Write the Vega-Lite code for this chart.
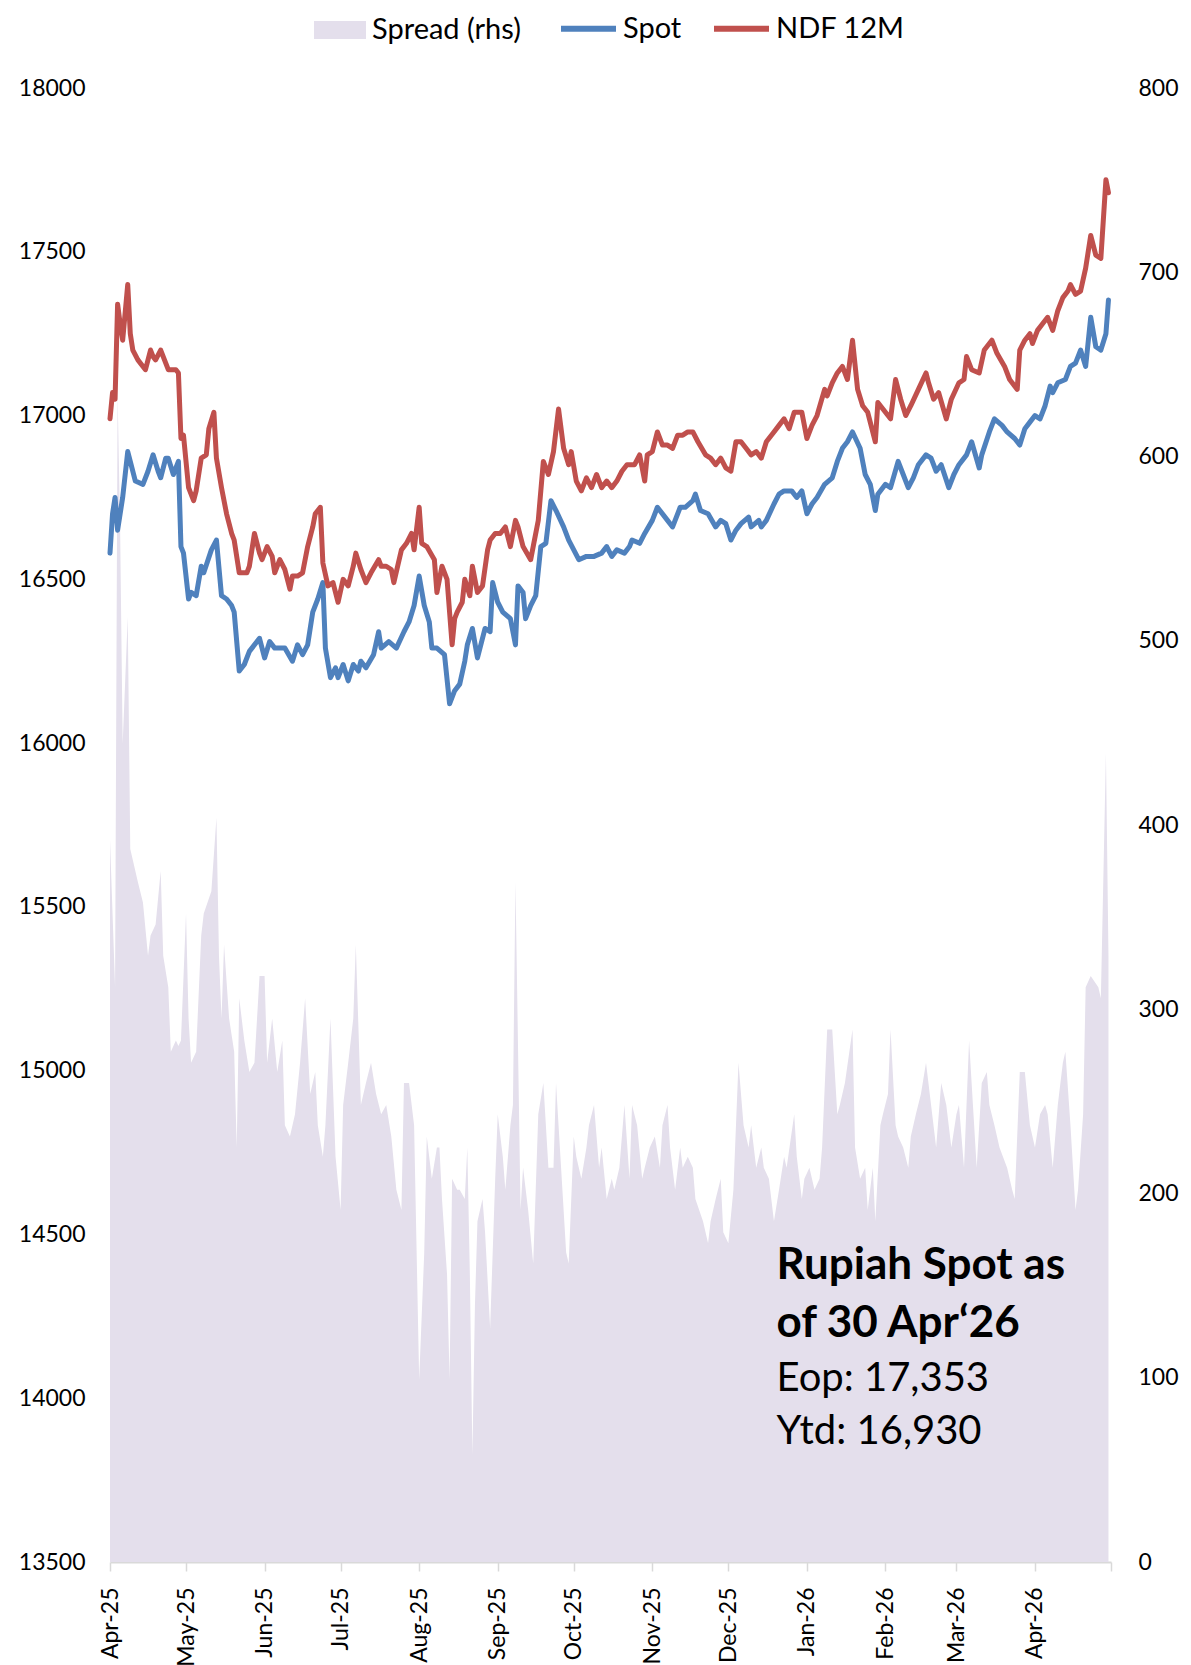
{
"$schema": "https://vega.github.io/schema/vega-lite/v6.json",
"width": 1001, "height": 1474,
"autosize": {"type": "none"},
"padding": {"left": 110, "top": 88, "right": 80, "bottom": 103},
"background": "white",
"config": {"view": {"stroke": null}, "font": "Lato",
  "axis": {"labelFont": "Lato", "labelFontSize": 23, "labelColor": "#000", "grid": false, "title": null},
  "legend": {"labelFont": "Lato", "labelFontSize": 29, "labelColor": "#000", "title": null, "padding": 0}},
"datasets": {
"spot": [
{"date":"2025-04-01","value":16580},{"date":"2025-04-02","value":16700},{"date":"2025-04-03","value":16750},{"date":"2025-04-04","value":16650},{"date":"2025-04-06","value":16750},{"date":"2025-04-08","value":16890},{"date":"2025-04-09","value":16860},{"date":"2025-04-11","value":16800},{"date":"2025-04-14","value":16790},{"date":"2025-04-16","value":16830},{"date":"2025-04-18","value":16880},{"date":"2025-04-20","value":16830},{"date":"2025-04-21","value":16810},{"date":"2025-04-23","value":16870},{"date":"2025-04-24","value":16870},{"date":"2025-04-26","value":16820},{"date":"2025-04-28","value":16860},{"date":"2025-04-29","value":16600},{"date":"2025-04-30","value":16580},
{"date":"2025-05-02","value":16440},{"date":"2025-05-03","value":16460},{"date":"2025-05-05","value":16450},{"date":"2025-05-07","value":16540},{"date":"2025-05-08","value":16520},{"date":"2025-05-11","value":16590},{"date":"2025-05-13","value":16620},{"date":"2025-05-15","value":16450},{"date":"2025-05-17","value":16440},{"date":"2025-05-19","value":16420},{"date":"2025-05-20","value":16400},{"date":"2025-05-22","value":16220},{"date":"2025-05-24","value":16240},{"date":"2025-05-26","value":16280},{"date":"2025-05-30","value":16320},
{"date":"2025-06-01","value":16260},{"date":"2025-06-03","value":16310},{"date":"2025-06-05","value":16290},{"date":"2025-06-09","value":16290},{"date":"2025-06-12","value":16250},{"date":"2025-06-14","value":16300},{"date":"2025-06-16","value":16270},{"date":"2025-06-18","value":16300},{"date":"2025-06-20","value":16400},{"date":"2025-06-22","value":16440},{"date":"2025-06-24","value":16490},{"date":"2025-06-25","value":16290},{"date":"2025-06-27","value":16200},{"date":"2025-06-29","value":16230},{"date":"2025-06-30","value":16200},
{"date":"2025-07-02","value":16240},{"date":"2025-07-04","value":16190},{"date":"2025-07-06","value":16240},{"date":"2025-07-08","value":16220},{"date":"2025-07-09","value":16250},{"date":"2025-07-11","value":16230},{"date":"2025-07-14","value":16270},{"date":"2025-07-16","value":16340},{"date":"2025-07-17","value":16290},{"date":"2025-07-20","value":16310},{"date":"2025-07-23","value":16290},{"date":"2025-07-26","value":16340},{"date":"2025-07-28","value":16370},{"date":"2025-07-30","value":16420},
{"date":"2025-08-01","value":16510},{"date":"2025-08-03","value":16420},{"date":"2025-08-05","value":16370},{"date":"2025-08-06","value":16290},{"date":"2025-08-08","value":16290},{"date":"2025-08-11","value":16270},{"date":"2025-08-13","value":16120},{"date":"2025-08-15","value":16160},{"date":"2025-08-17","value":16180},{"date":"2025-08-19","value":16250},{"date":"2025-08-20","value":16300},{"date":"2025-08-22","value":16350},{"date":"2025-08-24","value":16260},{"date":"2025-08-27","value":16350},{"date":"2025-08-29","value":16340},{"date":"2025-08-30","value":16490},
{"date":"2025-09-01","value":16430},{"date":"2025-09-03","value":16400},{"date":"2025-09-06","value":16380},{"date":"2025-09-08","value":16300},{"date":"2025-09-09","value":16480},{"date":"2025-09-11","value":16460},{"date":"2025-09-12","value":16380},{"date":"2025-09-14","value":16420},{"date":"2025-09-16","value":16450},{"date":"2025-09-18","value":16600},{"date":"2025-09-20","value":16610},{"date":"2025-09-22","value":16740},{"date":"2025-09-24","value":16710},{"date":"2025-09-27","value":16660},{"date":"2025-09-29","value":16620},
{"date":"2025-10-03","value":16560},{"date":"2025-10-06","value":16570},{"date":"2025-10-09","value":16570},{"date":"2025-10-12","value":16580},{"date":"2025-10-14","value":16600},{"date":"2025-10-16","value":16570},{"date":"2025-10-18","value":16590},{"date":"2025-10-21","value":16580},{"date":"2025-10-23","value":16600},{"date":"2025-10-24","value":16620},{"date":"2025-10-27","value":16610},{"date":"2025-10-29","value":16640},
{"date":"2025-11-01","value":16680},{"date":"2025-11-03","value":16720},{"date":"2025-11-07","value":16680},{"date":"2025-11-09","value":16660},{"date":"2025-11-12","value":16720},{"date":"2025-11-14","value":16720},{"date":"2025-11-17","value":16740},{"date":"2025-11-18","value":16760},{"date":"2025-11-20","value":16710},{"date":"2025-11-23","value":16700},{"date":"2025-11-26","value":16660},{"date":"2025-11-28","value":16680},{"date":"2025-11-30","value":16670},
{"date":"2025-12-02","value":16620},{"date":"2025-12-04","value":16650},{"date":"2025-12-06","value":16670},{"date":"2025-12-09","value":16690},{"date":"2025-12-10","value":16660},{"date":"2025-12-13","value":16680},{"date":"2025-12-14","value":16660},{"date":"2025-12-16","value":16680},{"date":"2025-12-19","value":16730},{"date":"2025-12-21","value":16760},{"date":"2025-12-23","value":16770},{"date":"2025-12-26","value":16770},{"date":"2025-12-28","value":16750},{"date":"2025-12-30","value":16770},
{"date":"2026-01-01","value":16700},{"date":"2026-01-03","value":16730},{"date":"2026-01-05","value":16750},{"date":"2026-01-08","value":16790},{"date":"2026-01-11","value":16810},{"date":"2026-01-13","value":16860},{"date":"2026-01-15","value":16900},{"date":"2026-01-17","value":16920},{"date":"2026-01-19","value":16950},{"date":"2026-01-22","value":16900},{"date":"2026-01-24","value":16820},{"date":"2026-01-26","value":16790},{"date":"2026-01-28","value":16710},{"date":"2026-01-29","value":16760},
{"date":"2026-02-01","value":16790},{"date":"2026-02-03","value":16780},{"date":"2026-02-06","value":16860},{"date":"2026-02-08","value":16820},{"date":"2026-02-10","value":16780},{"date":"2026-02-12","value":16810},{"date":"2026-02-14","value":16850},{"date":"2026-02-17","value":16880},{"date":"2026-02-19","value":16870},{"date":"2026-02-21","value":16830},{"date":"2026-02-23","value":16850},{"date":"2026-02-26","value":16780},{"date":"2026-02-28","value":16820},
{"date":"2026-03-02","value":16850},{"date":"2026-03-05","value":16880},{"date":"2026-03-07","value":16920},{"date":"2026-03-10","value":16840},{"date":"2026-03-11","value":16880},{"date":"2026-03-14","value":16950},{"date":"2026-03-16","value":16990},{"date":"2026-03-19","value":16970},{"date":"2026-03-21","value":16950},{"date":"2026-03-24","value":16930},{"date":"2026-03-26","value":16910},{"date":"2026-03-28","value":16960},{"date":"2026-03-30","value":16980},
{"date":"2026-04-01","value":17000},{"date":"2026-04-03","value":16990},{"date":"2026-04-05","value":17030},{"date":"2026-04-07","value":17090},{"date":"2026-04-08","value":17070},{"date":"2026-04-10","value":17100},{"date":"2026-04-13","value":17110},{"date":"2026-04-15","value":17150},{"date":"2026-04-17","value":17160},{"date":"2026-04-19","value":17200},{"date":"2026-04-21","value":17150},{"date":"2026-04-23","value":17300},{"date":"2026-04-25","value":17210},{"date":"2026-04-27","value":17200},{"date":"2026-04-29","value":17250},{"date":"2026-04-30","value":17353}
],
"ndf": [
{"date":"2025-04-01","value":16990},{"date":"2025-04-02","value":17070},{"date":"2025-04-03","value":17050},{"date":"2025-04-04","value":17340},{"date":"2025-04-05","value":17280},{"date":"2025-04-06","value":17230},{"date":"2025-04-08","value":17400},{"date":"2025-04-09","value":17250},{"date":"2025-04-10","value":17200},{"date":"2025-04-12","value":17170},{"date":"2025-04-14","value":17150},{"date":"2025-04-15","value":17140},{"date":"2025-04-17","value":17200},{"date":"2025-04-18","value":17180},{"date":"2025-04-19","value":17170},{"date":"2025-04-21","value":17200},{"date":"2025-04-23","value":17160},{"date":"2025-04-24","value":17140},{"date":"2025-04-27","value":17140},{"date":"2025-04-28","value":17130},{"date":"2025-04-29","value":16930},{"date":"2025-04-30","value":16940},
{"date":"2025-05-02","value":16780},{"date":"2025-05-04","value":16740},{"date":"2025-05-05","value":16770},{"date":"2025-05-07","value":16870},{"date":"2025-05-09","value":16880},{"date":"2025-05-10","value":16960},{"date":"2025-05-12","value":17010},{"date":"2025-05-13","value":16870},{"date":"2025-05-15","value":16780},{"date":"2025-05-17","value":16700},{"date":"2025-05-19","value":16640},{"date":"2025-05-20","value":16620},{"date":"2025-05-22","value":16520},{"date":"2025-05-25","value":16520},{"date":"2025-05-26","value":16540},{"date":"2025-05-28","value":16640},{"date":"2025-05-30","value":16580},{"date":"2025-05-31","value":16560},
{"date":"2025-06-02","value":16600},{"date":"2025-06-04","value":16570},{"date":"2025-06-05","value":16520},{"date":"2025-06-07","value":16560},{"date":"2025-06-09","value":16530},{"date":"2025-06-11","value":16470},{"date":"2025-06-12","value":16510},{"date":"2025-06-14","value":16510},{"date":"2025-06-16","value":16520},{"date":"2025-06-18","value":16600},{"date":"2025-06-20","value":16660},{"date":"2025-06-21","value":16700},{"date":"2025-06-23","value":16720},{"date":"2025-06-24","value":16550},{"date":"2025-06-26","value":16480},{"date":"2025-06-28","value":16490},{"date":"2025-06-30","value":16430},
{"date":"2025-07-02","value":16500},{"date":"2025-07-04","value":16480},{"date":"2025-07-06","value":16540},{"date":"2025-07-07","value":16580},{"date":"2025-07-09","value":16530},{"date":"2025-07-11","value":16490},{"date":"2025-07-13","value":16520},{"date":"2025-07-16","value":16560},{"date":"2025-07-17","value":16540},{"date":"2025-07-19","value":16540},{"date":"2025-07-21","value":16530},{"date":"2025-07-22","value":16490},{"date":"2025-07-25","value":16590},{"date":"2025-07-27","value":16610},{"date":"2025-07-29","value":16640},{"date":"2025-07-30","value":16590},
{"date":"2025-08-01","value":16720},{"date":"2025-08-02","value":16610},{"date":"2025-08-04","value":16600},{"date":"2025-08-07","value":16560},{"date":"2025-08-08","value":16460},{"date":"2025-08-10","value":16540},{"date":"2025-08-12","value":16500},{"date":"2025-08-14","value":16300},{"date":"2025-08-15","value":16380},{"date":"2025-08-16","value":16400},{"date":"2025-08-18","value":16430},{"date":"2025-08-19","value":16500},{"date":"2025-08-21","value":16450},{"date":"2025-08-22","value":16540},{"date":"2025-08-24","value":16460},{"date":"2025-08-26","value":16480},{"date":"2025-08-28","value":16590},{"date":"2025-08-29","value":16620},{"date":"2025-08-31","value":16640},
{"date":"2025-09-02","value":16640},{"date":"2025-09-04","value":16660},{"date":"2025-09-06","value":16600},{"date":"2025-09-08","value":16680},{"date":"2025-09-09","value":16660},{"date":"2025-09-11","value":16600},{"date":"2025-09-14","value":16560},{"date":"2025-09-15","value":16600},{"date":"2025-09-17","value":16680},{"date":"2025-09-19","value":16860},{"date":"2025-09-21","value":16820},{"date":"2025-09-23","value":16890},{"date":"2025-09-25","value":17020},{"date":"2025-09-27","value":16900},{"date":"2025-09-29","value":16850},{"date":"2025-09-30","value":16890},
{"date":"2025-10-02","value":16800},{"date":"2025-10-04","value":16770},{"date":"2025-10-06","value":16810},{"date":"2025-10-08","value":16780},{"date":"2025-10-10","value":16820},{"date":"2025-10-12","value":16780},{"date":"2025-10-14","value":16800},{"date":"2025-10-16","value":16780},{"date":"2025-10-18","value":16800},{"date":"2025-10-20","value":16830},{"date":"2025-10-22","value":16850},{"date":"2025-10-25","value":16850},{"date":"2025-10-27","value":16880},{"date":"2025-10-29","value":16800},{"date":"2025-10-30","value":16880},
{"date":"2025-11-01","value":16890},{"date":"2025-11-03","value":16950},{"date":"2025-11-05","value":16910},{"date":"2025-11-07","value":16910},{"date":"2025-11-09","value":16900},{"date":"2025-11-11","value":16940},{"date":"2025-11-13","value":16940},{"date":"2025-11-15","value":16950},{"date":"2025-11-17","value":16950},{"date":"2025-11-19","value":16920},{"date":"2025-11-22","value":16880},{"date":"2025-11-24","value":16870},{"date":"2025-11-26","value":16850},{"date":"2025-11-28","value":16870},{"date":"2025-11-30","value":16840},
{"date":"2025-12-02","value":16830},{"date":"2025-12-04","value":16920},{"date":"2025-12-06","value":16920},{"date":"2025-12-08","value":16900},{"date":"2025-12-10","value":16880},{"date":"2025-12-12","value":16890},{"date":"2025-12-14","value":16870},{"date":"2025-12-16","value":16920},{"date":"2025-12-19","value":16950},{"date":"2025-12-21","value":16970},{"date":"2025-12-23","value":16990},{"date":"2025-12-25","value":16960},{"date":"2025-12-27","value":17010},{"date":"2025-12-30","value":17010},
{"date":"2026-01-01","value":16930},{"date":"2026-01-03","value":16970},{"date":"2026-01-05","value":17000},{"date":"2026-01-08","value":17080},{"date":"2026-01-09","value":17060},{"date":"2026-01-11","value":17100},{"date":"2026-01-13","value":17130},{"date":"2026-01-15","value":17150},{"date":"2026-01-17","value":17110},{"date":"2026-01-19","value":17230},{"date":"2026-01-21","value":17080},{"date":"2026-01-23","value":17030},{"date":"2026-01-25","value":17010},{"date":"2026-01-28","value":16920},{"date":"2026-01-29","value":17040},{"date":"2026-01-31","value":17020},
{"date":"2026-02-03","value":16990},{"date":"2026-02-05","value":17110},{"date":"2026-02-07","value":17050},{"date":"2026-02-09","value":17000},{"date":"2026-02-11","value":17030},{"date":"2026-02-14","value":17080},{"date":"2026-02-17","value":17130},{"date":"2026-02-18","value":17100},{"date":"2026-02-20","value":17050},{"date":"2026-02-22","value":17070},{"date":"2026-02-25","value":16990},{"date":"2026-02-27","value":17050},
{"date":"2026-03-02","value":17100},{"date":"2026-03-04","value":17110},{"date":"2026-03-05","value":17180},{"date":"2026-03-07","value":17140},{"date":"2026-03-10","value":17130},{"date":"2026-03-12","value":17200},{"date":"2026-03-15","value":17230},{"date":"2026-03-17","value":17190},{"date":"2026-03-20","value":17150},{"date":"2026-03-22","value":17110},{"date":"2026-03-25","value":17080},{"date":"2026-03-26","value":17200},{"date":"2026-03-28","value":17230},{"date":"2026-03-30","value":17250},{"date":"2026-03-31","value":17220},
{"date":"2026-04-02","value":17260},{"date":"2026-04-04","value":17280},{"date":"2026-04-06","value":17300},{"date":"2026-04-08","value":17260},{"date":"2026-04-10","value":17320},{"date":"2026-04-12","value":17360},{"date":"2026-04-14","value":17380},{"date":"2026-04-15","value":17400},{"date":"2026-04-17","value":17370},{"date":"2026-04-19","value":17380},{"date":"2026-04-21","value":17450},{"date":"2026-04-23","value":17550},{"date":"2026-04-25","value":17490},{"date":"2026-04-27","value":17480},{"date":"2026-04-29","value":17720},{"date":"2026-04-30","value":17680}
],
"spread": [
{"date":"2025-04-01","value":392},{"date":"2025-04-02","value":352},{"date":"2025-04-03","value":312},{"date":"2025-04-04","value":634},{"date":"2025-04-05","value":560},{"date":"2025-04-06","value":444},{"date":"2025-04-08","value":513},{"date":"2025-04-09","value":387},{"date":"2025-04-10","value":381},{"date":"2025-04-12","value":369},{"date":"2025-04-14","value":358},{"date":"2025-04-16","value":329},{"date":"2025-04-17","value":340},{"date":"2025-04-19","value":346},{"date":"2025-04-21","value":375},{"date":"2025-04-22","value":329},{"date":"2025-04-24","value":312},{"date":"2025-04-25","value":277},{"date":"2025-04-27","value":283},{"date":"2025-04-28","value":280},{"date":"2025-04-29","value":283},
{"date":"2025-05-01","value":352},{"date":"2025-05-02","value":295},{"date":"2025-05-03","value":271},{"date":"2025-05-05","value":277},{"date":"2025-05-07","value":340},{"date":"2025-05-08","value":352},{"date":"2025-05-11","value":364},{"date":"2025-05-13","value":404},{"date":"2025-05-14","value":329},{"date":"2025-05-15","value":295},{"date":"2025-05-16","value":335},{"date":"2025-05-18","value":295},{"date":"2025-05-20","value":277},{"date":"2025-05-21","value":225},{"date":"2025-05-22","value":306},{"date":"2025-05-24","value":283},{"date":"2025-05-26","value":266},{"date":"2025-05-28","value":271},{"date":"2025-05-30","value":318},
{"date":"2025-06-01","value":318},{"date":"2025-06-02","value":271},{"date":"2025-06-04","value":295},{"date":"2025-06-06","value":266},{"date":"2025-06-08","value":283},{"date":"2025-06-09","value":237},{"date":"2025-06-11","value":231},{"date":"2025-06-13","value":243},{"date":"2025-06-15","value":271},{"date":"2025-06-17","value":306},{"date":"2025-06-19","value":254},{"date":"2025-06-21","value":266},{"date":"2025-06-22","value":237},{"date":"2025-06-24","value":220},{"date":"2025-06-25","value":237},{"date":"2025-06-27","value":295},{"date":"2025-06-29","value":220},
{"date":"2025-07-01","value":191},{"date":"2025-07-02","value":248},{"date":"2025-07-04","value":271},{"date":"2025-07-06","value":295},{"date":"2025-07-07","value":335},{"date":"2025-07-09","value":248},{"date":"2025-07-11","value":260},{"date":"2025-07-13","value":271},{"date":"2025-07-15","value":254},{"date":"2025-07-17","value":243},{"date":"2025-07-19","value":248},{"date":"2025-07-21","value":231},{"date":"2025-07-23","value":202},{"date":"2025-07-25","value":191},{"date":"2025-07-26","value":260},{"date":"2025-07-28","value":260},{"date":"2025-07-30","value":237},{"date":"2025-07-31","value":168},
{"date":"2025-08-01","value":99},{"date":"2025-08-03","value":168},{"date":"2025-08-04","value":231},{"date":"2025-08-06","value":208},{"date":"2025-08-08","value":225},{"date":"2025-08-09","value":225},{"date":"2025-08-10","value":197},{"date":"2025-08-12","value":156},{"date":"2025-08-13","value":99},{"date":"2025-08-14","value":208},{"date":"2025-08-16","value":202},{"date":"2025-08-17","value":202},{"date":"2025-08-19","value":197},{"date":"2025-08-20","value":225},{"date":"2025-08-21","value":156},{"date":"2025-08-22","value":58},{"date":"2025-08-23","value":139},{"date":"2025-08-24","value":185},{"date":"2025-08-26","value":197},{"date":"2025-08-27","value":179},{"date":"2025-08-29","value":127},{"date":"2025-08-31","value":208},
{"date":"2025-09-01","value":243},{"date":"2025-09-03","value":220},{"date":"2025-09-04","value":202},{"date":"2025-09-06","value":237},{"date":"2025-09-07","value":248},{"date":"2025-09-08","value":369},{"date":"2025-09-10","value":191},{"date":"2025-09-11","value":214},{"date":"2025-09-13","value":191},{"date":"2025-09-15","value":162},{"date":"2025-09-17","value":243},{"date":"2025-09-19","value":260},{"date":"2025-09-21","value":214},{"date":"2025-09-23","value":214},{"date":"2025-09-24","value":260},{"date":"2025-09-26","value":214},{"date":"2025-09-28","value":168},{"date":"2025-09-29","value":162},
{"date":"2025-10-01","value":231},{"date":"2025-10-02","value":220},{"date":"2025-10-04","value":208},{"date":"2025-10-06","value":225},{"date":"2025-10-07","value":237},{"date":"2025-10-09","value":248},{"date":"2025-10-11","value":214},{"date":"2025-10-12","value":225},{"date":"2025-10-14","value":197},{"date":"2025-10-16","value":208},{"date":"2025-10-17","value":202},{"date":"2025-10-19","value":214},{"date":"2025-10-21","value":248},{"date":"2025-10-23","value":208},{"date":"2025-10-24","value":248},{"date":"2025-10-26","value":237},{"date":"2025-10-28","value":208},{"date":"2025-10-29","value":214},{"date":"2025-10-31","value":225},
{"date":"2025-11-02","value":231},{"date":"2025-11-04","value":214},{"date":"2025-11-05","value":237},{"date":"2025-11-07","value":248},{"date":"2025-11-08","value":225},{"date":"2025-11-10","value":202},{"date":"2025-11-12","value":225},{"date":"2025-11-13","value":214},{"date":"2025-11-15","value":220},{"date":"2025-11-17","value":214},{"date":"2025-11-18","value":197},{"date":"2025-11-21","value":185},{"date":"2025-11-23","value":173},{"date":"2025-11-24","value":185},{"date":"2025-11-26","value":197},{"date":"2025-11-28","value":208},{"date":"2025-11-29","value":179},
{"date":"2025-12-01","value":173},{"date":"2025-12-03","value":202},{"date":"2025-12-05","value":271},{"date":"2025-12-07","value":237},{"date":"2025-12-09","value":225},{"date":"2025-12-10","value":237},{"date":"2025-12-12","value":214},{"date":"2025-12-14","value":225},{"date":"2025-12-15","value":214},{"date":"2025-12-17","value":208},{"date":"2025-12-19","value":185},{"date":"2025-12-21","value":202},{"date":"2025-12-23","value":220},{"date":"2025-12-24","value":214},{"date":"2025-12-27","value":243},{"date":"2025-12-28","value":220},{"date":"2025-12-30","value":197},{"date":"2025-12-31","value":208},
{"date":"2026-01-02","value":214},{"date":"2026-01-04","value":202},{"date":"2026-01-06","value":208},{"date":"2026-01-07","value":225},{"date":"2026-01-09","value":289},{"date":"2026-01-11","value":289},{"date":"2026-01-13","value":243},{"date":"2026-01-14","value":248},{"date":"2026-01-16","value":260},{"date":"2026-01-19","value":289},{"date":"2026-01-20","value":225},{"date":"2026-01-22","value":208},{"date":"2026-01-24","value":214},{"date":"2026-01-25","value":191},{"date":"2026-01-27","value":214},{"date":"2026-01-28","value":185},{"date":"2026-01-30","value":237},{"date":"2026-01-31","value":243},
{"date":"2026-02-02","value":254},{"date":"2026-02-03","value":289},{"date":"2026-02-05","value":237},{"date":"2026-02-06","value":231},{"date":"2026-02-08","value":225},{"date":"2026-02-10","value":214},{"date":"2026-02-11","value":231},{"date":"2026-02-13","value":243},{"date":"2026-02-15","value":254},{"date":"2026-02-17","value":271},{"date":"2026-02-19","value":248},{"date":"2026-02-21","value":225},{"date":"2026-02-23","value":260},{"date":"2026-02-25","value":248},{"date":"2026-02-27","value":225},
{"date":"2026-03-01","value":243},{"date":"2026-03-02","value":248},{"date":"2026-03-04","value":214},{"date":"2026-03-06","value":283},{"date":"2026-03-07","value":260},{"date":"2026-03-09","value":214},{"date":"2026-03-11","value":260},{"date":"2026-03-13","value":266},{"date":"2026-03-14","value":248},{"date":"2026-03-16","value":237},{"date":"2026-03-18","value":225},{"date":"2026-03-21","value":214},{"date":"2026-03-23","value":202},{"date":"2026-03-24","value":197},{"date":"2026-03-26","value":266},{"date":"2026-03-28","value":266},{"date":"2026-03-30","value":237},
{"date":"2026-04-01","value":225},{"date":"2026-04-03","value":243},{"date":"2026-04-05","value":248},{"date":"2026-04-06","value":243},{"date":"2026-04-08","value":214},{"date":"2026-04-10","value":248},{"date":"2026-04-12","value":271},{"date":"2026-04-13","value":277},{"date":"2026-04-15","value":237},{"date":"2026-04-17","value":191},{"date":"2026-04-18","value":202},{"date":"2026-04-20","value":243},{"date":"2026-04-21","value":312},{"date":"2026-04-23","value":318},{"date":"2026-04-26","value":312},{"date":"2026-04-27","value":306},{"date":"2026-04-29","value":439},{"date":"2026-04-30","value":329}
],
"noteBold": [
{"date":"2025-12-20","value":14364,"label":"Rupiah Spot as"},
{"date":"2025-12-20","value":14187,"label":"of 30 Apr‘26"}
],
"noteRegular": [
{"date":"2025-12-20","value":14022,"label":"Eop: 17,353"},
{"date":"2025-12-20","value":13860,"label":"Ytd: 16,930"}
]
},
"layer": [
 {"data": {"name": "spread"},
  "mark": {"type": "area", "interpolate": "linear"},
  "encoding": {
   "x": {"field": "date", "type": "temporal",
     "scale": {"domain": [{"year": 2025, "month": 4, "date": 1}, {"year": 2026, "month": 5, "date": 1}]},
     "axis": {"tickCount": {"interval": "month", "step": 1}, "labelExpr": "datum.value >= datetime(2026, 4, 1) ? '' : timeFormat(datum.value, '%b-%y')",
       "labelAngle": 270, "labelAlign": "right", "labelBaseline": "middle", "labelPadding": 16, "labelOverlap": false, "labelFlush": false, "labelBound": false,
       "domainColor": "#d9d9d9", "domainWidth": 2, "tickColor": "#d9d9d9", "tickWidth": 1.5, "tickSize": 9}},
   "y": {"field": "value", "type": "quantitative",
     "scale": {"domain": [0, 800], "nice": false},
     "axis": {"orient": "right", "values": [0, 100, 200, 300, 400, 500, 600, 700, 800], "domain": false, "ticks": false, "tickSize": 0, "labelPadding": 27, "labelAlign": "left"}},
   "fill": {"datum": "Spread (rhs)", "type": "nominal",
     "scale": {"domain": ["Spread (rhs)"], "range": ["#e4dfec"]},
     "legend": {"orient": "none", "legendX": 204, "legendY": -84, "symbolType": "M-1,-0.35H1V0.35H-1Z", "symbolSize": 2704, "symbolStrokeWidth": 0, "labelOffset": 6}}
  }},
 {"layer": [
  {"data": {"name": "spot"},
   "mark": {"type": "line", "strokeWidth": 5, "strokeJoin": "round", "strokeCap": "round"},
   "encoding": {
    "x": {"field": "date", "type": "temporal"},
    "y": {"field": "value", "type": "quantitative",
      "scale": {"domain": [13500, 18000], "nice": false, "zero": false},
      "axis": {"orient": "left", "values": [13500, 14000, 14500, 15000, 15500, 16000, 16500, 17000, 17500, 18000], "format": "d", "domain": false, "ticks": false, "tickSize": 0, "labelPadding": 25}},
    "stroke": {"datum": "Spot", "type": "nominal",
      "scale": {"domain": ["Spot", "NDF 12M"], "range": ["#4f81bd", "#c0504d"]},
      "legend": {"orient": "none", "legendX": 448, "legendY": -90, "direction": "horizontal", "symbolType": "stroke", "symbolSize": 3025, "symbolStrokeWidth": 6, "labelOffset": 4, "columnPadding": 20}}
   }},
  {"data": {"name": "ndf"},
   "mark": {"type": "line", "strokeWidth": 5, "strokeJoin": "round", "strokeCap": "round"},
   "encoding": {
    "x": {"field": "date", "type": "temporal"},
    "y": {"field": "value", "type": "quantitative"},
    "stroke": {"datum": "NDF 12M", "type": "nominal"}
   }},
  {"data": {"name": "noteBold"},
   "mark": {"type": "text", "align": "left", "baseline": "alphabetic", "font": "Lato", "fontSize": 44, "fontWeight": "bold", "color": "#000"},
   "encoding": {
    "x": {"field": "date", "type": "temporal"},
    "y": {"field": "value", "type": "quantitative"},
    "text": {"field": "label"}
   }},
  {"data": {"name": "noteRegular"},
   "mark": {"type": "text", "align": "left", "baseline": "alphabetic", "font": "Lato", "fontSize": 40, "color": "#000"},
   "encoding": {
    "x": {"field": "date", "type": "temporal"},
    "y": {"field": "value", "type": "quantitative"},
    "text": {"field": "label"}
   }}
 ]}
],
"resolve": {"scale": {"y": "independent"}}
}
